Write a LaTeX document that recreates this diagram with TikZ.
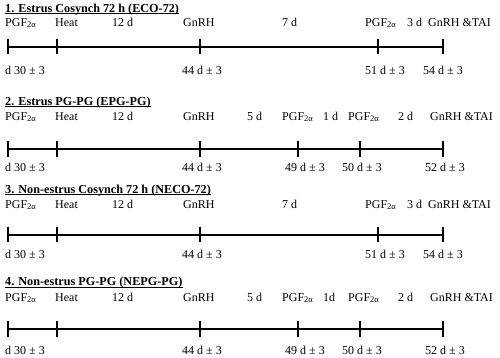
\documentclass[tikz,border=0pt]{standalone}
\usepackage{fontspec}
\setmainfont{Liberation Serif}
\newcommand\pgfa{PGF{\fontsize{8.5}{9}\selectfont\raisebox{-1pt}{2α}}}
\begin{document}
\begin{tikzpicture}[x=1pt,y=-1pt,
  lbl/.style={anchor=base west, inner sep=0pt, font=\fontsize{12}{14}\selectfont},
  ttl/.style={anchor=base west, inner sep=0pt, font=\fontsize{12.2}{14}\selectfont\bfseries},
  uline/.style={line width=0.9pt},
  tl/.style={line width=1.8pt},
  tick/.style={line width=1.8pt}]
\useasboundingbox (0,0) rectangle (500,357);

% ---------- Block 1 ----------
\node[ttl] (t1) at (5,12) {1. Estrus Cosynch 72 h (ECO-72)};
\draw[uline] ([yshift=-1.8pt]t1.base west) -- ([yshift=-1.8pt]t1.base east);
\node[lbl] (a1) at (5,26.5) {\pgfa};
\node[lbl] (a2) at (55,26.5) {Heat};
\node[lbl] (a3) at (112,26.5) {12 d};
\node[lbl] (a4) at (183,26.5) {GnRH};
\node[lbl] (a5) at (282,26.5) {7 d};
\node[lbl] (a6) at (365,26.5) {\pgfa};
\node[lbl] (a7) at (407,26.5) {3 d};
\node[lbl] (a8) at (428,26.5) {GnRH \&TAI};
\coordinate (p1) at (8,47); \coordinate (p2) at (57,47); \coordinate (p3) at (200,47);
\coordinate (p4) at (378,47); \coordinate (p5) at (443,47);
\draw[tl] (p1) -- (p5);
\foreach \p in {p1,p2,p3,p4,p5} \draw[tick] ([yshift=8pt]\p) -- ([yshift=-7pt]\p);
\node[lbl] (b1) at (5,74) {d 30 ± 3};
\node[lbl] (b2) at (182,74) {44 d ± 3};
\node[lbl] (b3) at (365,74) {51 d ± 3};
\node[lbl] (b4) at (423,74) {54 d ± 3};

% ---------- Block 2 ----------
\node[ttl] (t2) at (5,105) {2. Estrus PG-PG (EPG-PG)};
\draw[uline] ([yshift=-1.8pt]t2.base west) -- ([yshift=-1.8pt]t2.base east);
\node[lbl] (c1) at (5,120.3) {\pgfa};
\node[lbl] (c2) at (55,120.3) {Heat};
\node[lbl] (c3) at (112,120.3) {12 d};
\node[lbl] (c4) at (183,120.3) {GnRH};
\node[lbl] (c5) at (247,120.3) {5 d};
\node[lbl] (c6) at (282,120.3) {\pgfa};
\node[lbl] (c7) at (323,120.3) {1 d};
\node[lbl] (c8) at (348,120.3) {\pgfa};
\node[lbl] (c9) at (398,120.3) {2 d};
\node[lbl] (c10) at (430,120.3) {GnRH \&TAI};
\coordinate (q1) at (8,149); \coordinate (q2) at (57,149); \coordinate (q3) at (200,149);
\coordinate (q4) at (298,149); \coordinate (q5) at (360,149); \coordinate (q6) at (443,149);
\draw[tl] (q1) -- (q6);
\foreach \p in {q1,q2,q3,q4,q5,q6} \draw[tick] ([yshift=8pt]\p) -- ([yshift=-8pt]\p);
\node[lbl] (d1) at (5,171) {d 30 ± 3};
\node[lbl] (d2) at (182,171) {44 d ± 3};
\node[lbl] (d3) at (285,171) {49 d ± 3};
\node[lbl] (d4) at (342,171) {50 d ± 3};
\node[lbl] (d5) at (425,171) {52 d ± 3};

% ---------- Block 3 ----------
\node[ttl] (t3) at (5,193) {3. Non-estrus Cosynch 72 h (NECO-72)};
\draw[uline] ([yshift=-1.8pt]t3.base west) -- ([yshift=-1.8pt]t3.base east);
\node[lbl] (e1) at (5,208) {\pgfa};
\node[lbl] (e2) at (55,208) {Heat};
\node[lbl] (e3) at (112,208) {12 d};
\node[lbl] (e4) at (183,208) {GnRH};
\node[lbl] (e5) at (282,208) {7 d};
\node[lbl] (e6) at (365,208) {\pgfa};
\node[lbl] (e7) at (407,208) {3 d};
\node[lbl] (e8) at (428,208) {GnRH \&TAI};
\coordinate (r1) at (8,234.7); \coordinate (r2) at (57,234.7); \coordinate (r3) at (200,234.7);
\coordinate (r4) at (378,234.7); \coordinate (r5) at (443,234.7);
\draw[tl] (r1) -- (r5);
\foreach \p in {r1,r2,r3,r4,r5} \draw[tick] ([yshift=8pt]\p) -- ([yshift=-7pt]\p);
\node[lbl] (f1) at (5,258) {d 30 ± 3};
\node[lbl] (f2) at (182,258) {44 d ± 3};
\node[lbl] (f3) at (365,258) {51 d ± 3};
\node[lbl] (f4) at (423,258) {54 d ± 3};

% ---------- Block 4 ----------
\node[ttl] (t4) at (5,285.3) {4. Non-estrus PG-PG (NEPG-PG)};
\draw[uline] ([yshift=-1.8pt]t4.base west) -- ([yshift=-1.8pt]t4.base east);
\node[lbl] (g1) at (5,301) {\pgfa};
\node[lbl] (g2) at (55,301) {Heat};
\node[lbl] (g3) at (112,301) {12 d};
\node[lbl] (g4) at (183,301) {GnRH};
\node[lbl] (g5) at (247,301) {5 d};
\node[lbl] (g6) at (282,301) {\pgfa};
\node[lbl] (g7) at (323,301) {1d};
\node[lbl] (g8) at (348,301) {\pgfa};
\node[lbl] (g9) at (398,301) {2 d};
\node[lbl] (g10) at (430,301) {GnRH \&TAI};
\coordinate (s1) at (8,328.7); \coordinate (s2) at (57,328.7); \coordinate (s3) at (200,328.7);
\coordinate (s4) at (298,328.7); \coordinate (s5) at (360,328.7); \coordinate (s6) at (443,328.7);
\draw[tl] (s1) -- (s6);
\foreach \p in {s1,s2,s3,s4,s5,s6} \draw[tick] ([yshift=8pt]\p) -- ([yshift=-8pt]\p);
\node[lbl] (h1) at (5,354) {d 30 ± 3};
\node[lbl] (h2) at (182,354) {44 d ± 3};
\node[lbl] (h3) at (285,354) {49 d ± 3};
\node[lbl] (h4) at (342,354) {50 d ± 3};
\node[lbl] (h5) at (425,354) {52 d ± 3};
\end{tikzpicture}
\end{document}
